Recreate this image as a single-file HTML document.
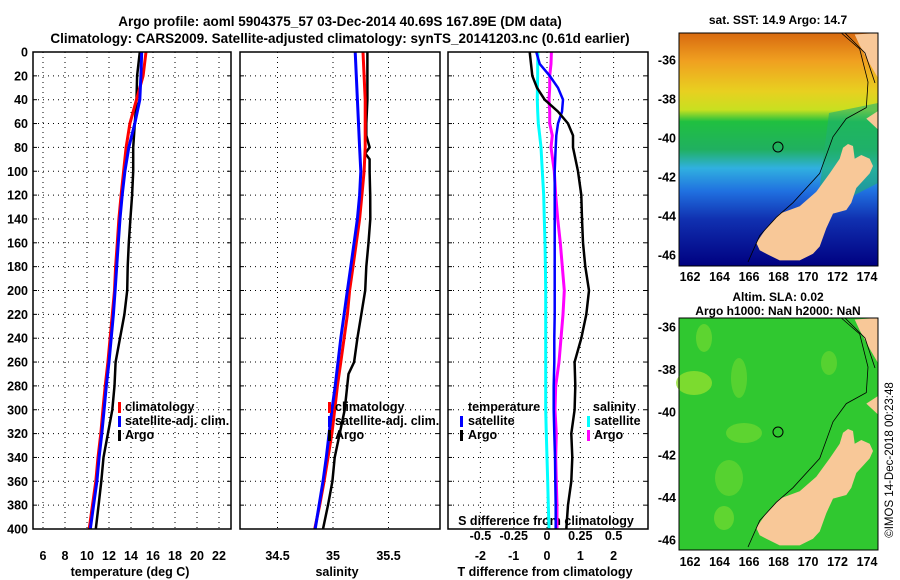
<!DOCTYPE html>
<html><head><meta charset="utf-8"><style>
body{margin:0;background:#fff;}
svg{display:block;font-family:"Liberation Sans",sans-serif;font-weight:bold;}
</style></head><body>
<svg id="chart" width="900" height="580" viewBox="0 0 900 580" xmlns="http://www.w3.org/2000/svg">
<rect width="900" height="580" fill="#fff"/>
<text x="340" y="26" font-size="13.5" text-anchor="middle">Argo profile: aoml 5904375_57 03-Dec-2014 40.69S 167.89E (DM data)</text>
<text x="340" y="43" font-size="13.5" text-anchor="middle">Climatology: CARS2009. Satellite-adjusted climatology: synTS_20141203.nc (0.61d earlier)</text>
<g id="panels"></g>
<g id="maps">
 <defs>
  <linearGradient id="sstg" x1="0" y1="0" x2="0" y2="1">
   <stop offset="0" stop-color="#d86a10"/>
   <stop offset="0.12" stop-color="#f0a020"/>
   <stop offset="0.25" stop-color="#e8d020"/>
   <stop offset="0.33" stop-color="#c8e020"/>
   <stop offset="0.38" stop-color="#20c040"/>
   <stop offset="0.5" stop-color="#20b060"/>
   <stop offset="0.58" stop-color="#30b0e0"/>
   <stop offset="0.68" stop-color="#2070e0"/>
   <stop offset="0.8" stop-color="#1030b0"/>
   <stop offset="1" stop-color="#000080"/>
  </linearGradient>
  <g id="landshape">
   <polygon points="169,111 174,113 175.7,125.8 182.3,122 190.7,125.8 194,133 190.7,140.4 184,147.7 177.3,155 172.3,169.7 167.3,177 154,180.6 147.3,195.2 140.7,213.5 134,220.8 120.7,227.4 100.7,227.4 87.3,220.8 80.7,217.2 77.3,209.9 87.3,195.2 100.7,180.6 120.7,173.3 137.3,158.7 150.7,140.4 160.7,125.8 164,114.8" fill="#f8c898"/>
   <polygon points="175.7,1.5 199,0 199,45 190.7,30.7 180.7,12.4" fill="#f8c898"/>
   <polygon points="187.3,85.6 199,78 199,96.5" fill="#f8c898"/>
   <polyline points="162.3,0 180.7,16 189,49 187.3,74.6 167.3,85.6 154,103.8 140.7,140.4 114,169.7 97.3,184.3 80.7,202.6 69,229" fill="none" stroke="#000" stroke-width="0.8"/>
   <polyline points="166,0 186,20 196,50" fill="none" stroke="#000" stroke-width="0.8"/>
  </g>
 </defs>
 <text x="778" y="24" font-size="12" text-anchor="middle">sat. SST: 14.9 Argo: 14.7</text>
 <g transform="translate(679,33)">
  <rect width="199" height="233" fill="url(#sstg)"/>
  <polygon points="150,80 199,70 199,150 160,170 140,160" fill="#20b070" opacity="0.6"/>
  <use href="#landshape"/>
  <circle cx="99" cy="114" r="5" fill="none" stroke="#000"/>
  <rect width="199" height="233" fill="none" stroke="#000"/>
 </g>
 <text x="778" y="301" font-size="12" text-anchor="middle">Altim. SLA: 0.02</text>
 <text x="778" y="315" font-size="12" text-anchor="middle">Argo h1000: NaN h2000: NaN</text>
 <g transform="translate(679,318)">
  <rect width="199" height="232" fill="#30c830"/>
  <ellipse cx="15" cy="65" rx="18" ry="12" fill="#90e030" opacity="0.8"/>
  <ellipse cx="25" cy="20" rx="8" ry="14" fill="#70d830" opacity="0.7"/>
  <ellipse cx="65" cy="115" rx="18" ry="10" fill="#70d830" opacity="0.7"/>
  <ellipse cx="50" cy="160" rx="14" ry="18" fill="#70d830" opacity="0.6"/>
  <ellipse cx="60" cy="60" rx="8" ry="20" fill="#70d830" opacity="0.6"/>
  <ellipse cx="150" cy="45" rx="8" ry="12" fill="#70d830" opacity="0.6"/>
  <ellipse cx="45" cy="200" rx="10" ry="12" fill="#80dd30" opacity="0.6"/>
  <use href="#landshape"/>
  <circle cx="99" cy="114" r="5" fill="none" stroke="#000"/>
  <rect width="199" height="232" fill="none" stroke="#000"/>
 </g>
 <text transform="translate(893,460) rotate(-90)" font-size="11.5" font-weight="normal" text-anchor="middle">©IMOS 14-Dec-2018 00:23:48</text>
</g>
</svg>
<script>
// ---- data ----
const depths = [0,20,40,60,80,100,120,140,160,180,200,220,240,260,280,300,320,340,360,380,400];
const tempClim = [15.36,15.1,14.5,13.9,13.55,13.33,13.1,12.9,12.75,12.6,12.5,12.3,12.1,11.9,11.65,11.45,11.25,11.0,10.8,10.5,10.2];
const tempSat = [14.97,14.9,14.8,14.35,13.8,13.45,13.2,13.0,12.85,12.7,12.55,12.4,12.2,12.0,11.75,11.55,11.35,11.1,10.9,10.6,10.3];
const tempArgo = [14.8,14.55,14.5,14.35,14.2,14.2,14.1,13.95,13.8,13.7,13.65,13.4,13.0,12.6,12.5,12.3,11.9,11.5,11.3,11.05,10.8];
const salClim = [35.27,35.28,35.29,35.29,35.29,35.28,35.26,35.24,35.21,35.18,35.15,35.13,35.1,35.07,35.04,35.015,34.99,34.955,34.92,34.88,34.835];
const salSat = [35.2,35.21,35.22,35.23,35.24,35.25,35.24,35.22,35.19,35.16,35.13,35.1,35.07,35.045,35.02,34.99,34.965,34.94,34.91,34.875,34.84];
const salArgoDepth = [0,20,40,60,70,80,85,90,100,120,140,160,180,200,220,240,260,270,300,320,340,360,380,400];
const salArgo = [35.31,35.31,35.31,35.3,35.3,35.33,35.29,35.33,35.33,35.335,35.336,35.32,35.3,35.29,35.255,35.22,35.19,35.14,35.105,35.06,35.015,34.995,34.955,34.91];
const diffDepth = [0,10,20,30,40,50,60,70,80,100,120,140,160,180,200,220,240,260,280,300,320,340,360,380,400];
const tDiffArgo = [-0.52,-0.48,-0.44,-0.3,-0.07,0.33,0.63,0.78,0.78,0.93,1.03,1.05,1.08,1.15,1.26,1.18,1.03,0.83,0.85,0.83,0.73,0.76,0.73,0.63,0.58];
const tDiffSat = [-0.32,-0.22,0.08,0.33,0.48,0.45,0.33,0.28,0.26,0.23,0.23,0.23,0.23,0.23,0.23,0.23,0.22,0.22,0.2,0.2,0.22,0.24,0.25,0.26,0.26];
const sDiffArgo = [0.033,0.03,0.02,0.02,0.015,0.02,0.02,0.04,0.03,0.055,0.065,0.08,0.1,0.115,0.13,0.12,0.105,0.09,0.065,0.06,0.07,0.065,0.07,0.075,0.075];
const sDiffSat = [-0.068,-0.07,-0.07,-0.072,-0.073,-0.07,-0.065,-0.055,-0.045,-0.035,-0.025,-0.02,-0.015,-0.012,-0.01,-0.01,-0.01,-0.01,-0.01,-0.01,-0.005,0.0,0.005,0.01,0.015];
const depthTicks = [0,20,40,60,80,100,120,140,160,180,200,220,240,260,280,300,320,340,360,380,400];
const tempTicks = [6,8,10,12,14,16,18,20,22];
const salTicks = [34.5,35,35.5];
const salTickLabels = ["34.5","35","35.5"];
const tDiffTicks = [-2,-1,0,1,2];
const sDiffTicks = [-0.5,-0.25,0,0.25,0.5];
const sDiffTickLabels = ["-0.5","-0.25","0","0.25","0.5"];
const latTicks = [-36,-38,-40,-42,-44,-46];
const lonTicks = [162,164,166,168,170,172,174];

// ---- axes ----
const Y0=52, Y1=529;
const yD = d => Y0 + d*(Y1-Y0)/400;
const xT = t => 43 + (t-6)*11;
const xS = s => 333 + (s-35)*111;
const xTD = v => 547 + v*33.3;
const xSD = v => 547 + v*4*33.3;
const lonX = lo => 690 + (lo-162)*14.75;
const latY1 = la => 60 + (-36-la)*19.5;
const latY2 = la => 327 + (-36-la)*21.3;

const NS="http://www.w3.org/2000/svg";
const root=document.getElementById('panels');
function mk(tag, attrs, parent){const e=document.createElementNS(NS,tag);for(const k in attrs)e.setAttribute(k,attrs[k]);(parent||root).appendChild(e);return e;}

const panels=[{x0:33,x1:231,name:'temperature'},{x0:240,x1:440,name:'salinity'},{x0:448,x1:648,name:'difference'}];
panels.forEach(p=>{
  const g=mk('g',{});
  
  
  depthTicks.forEach(d=>{
    if(d===0||d===400)return;
    const l=mk('line',{x1:p.x0,x2:p.x1,y1:yD(d),y2:yD(d),stroke:'#000','stroke-width':1,'stroke-dasharray':'1,4'},g);
    
    
    const t1=mk('line',{x1:p.x0,x2:p.x0+4,y1:yD(d),y2:yD(d),stroke:'#000'},g);
    
    
    const t2=mk('line',{x1:p.x1-4,x2:p.x1,y1:yD(d),y2:yD(d),stroke:'#000'},g);
    
    
  });
  p.g=g;
});
function vgrid(g,xs,fn){xs.forEach(v=>{const l=mk('line',{x1:fn(v),x2:fn(v),y1:Y0,y2:Y1,stroke:'#000','stroke-width':1,'stroke-dasharray':'1,4'},g);
  
  });}
vgrid(panels[0].g,tempTicks,xT);
vgrid(panels[1].g,salTicks,xS);
vgrid(panels[2].g,tDiffTicks,xTD);

function txt(s,x,y,anchor,name,size,fill){const e=mk('text',{x:x,y:y,'text-anchor':anchor||'start','font-size':size||12.5,fill:fill||'#000'});e.textContent=s;
  
  
  return e;}

depthTicks.forEach(d=>txt(String(d),28,yD(d)+4.5,'end','depth-tick-label'));
tempTicks.forEach(t=>txt(String(t),xT(t),560,'middle','temp-tick-label'));
salTicks.forEach((s,i)=>txt(salTickLabels[i],xS(s),560,'middle','sal-tick-label'));
tDiffTicks.forEach(t=>txt(String(t),xTD(t),560,'middle','tdiff-tick-label'));
sDiffTicks.forEach((s,i)=>txt(sDiffTickLabels[i],xSD(s),540,'middle','sdiff-tick-label'));
txt('temperature (deg C)',130,576,'middle','x-axis-title-temperature');
txt('salinity',337,576,'middle','x-axis-title-salinity');
txt('T difference from climatology',545,576,'middle','x-axis-title-tdiff');
txt('S difference from climatology',546,525,'middle','sdiff-axis-title');

function line(xs,ds,fx,color,w,name){
  const pts=xs.map((v,i)=>fx(v).toFixed(1)+','+yD(ds[i]).toFixed(1)).join(' ');
  const e=mk('polyline',{points:pts,fill:'none',stroke:color,'stroke-width':w,'stroke-linejoin':'miter'});
  
  
}
line(tempArgo,depths,xT,'#000',2.5,'temp-argo-line');
line(tempClim,depths,xT,'#f00',3,'temp-climatology-line');
line(tempSat,depths,xT,'#00f',3,'temp-satellite-line');
line(salArgo,salArgoDepth,xS,'#000',2.5,'sal-argo-line');
line(salClim,depths,xS,'#f00',3,'sal-climatology-line');
line(salSat,depths,xS,'#00f',3,'sal-satellite-line');
line(sDiffSat,diffDepth,xSD,'#00ffff',3,'sdiff-satellite-line');
line(sDiffArgo,diffDepth,xSD,'#ff00ff',3,'sdiff-argo-line');
line(tDiffSat,diffDepth,xTD,'#0000ff',2.5,'tdiff-satellite-line');
line(tDiffArgo,diffDepth,xTD,'#000',2.5,'tdiff-argo-line');

panels.forEach(p=>{const r=mk('rect',{x:p.x0,y:Y0,width:p.x1-p.x0,height:Y1-Y0,fill:'none',stroke:'#000','stroke-width':1.5});
  
  });

function legend(x,y,color,label,tx){const m=mk('rect',{x:x,y:y-9,width:3,height:11,fill:color});
  
  
  txt(label,tx,y,'start','legend-entry');}
legend(118,411,'#f00','climatology',125);
legend(118,425,'#00f','satellite-adj. clim.',125);
legend(118,439,'#000','Argo',125);
legend(328,411,'#f00','climatology',335);
legend(328,425,'#00f','satellite-adj. clim.',335);
legend(328,439,'#000','Argo',335);
txt('temperature',468,411,'start','legend-title-temperature');
legend(460,425,'#00f','satellite',468);
legend(460,439,'#000','Argo',468);
txt('salinity',593,411,'start','legend-title-salinity');
legend(587,425,'#00ffff','satellite',594);
legend(587,439,'#ff00ff','Argo',594);

latTicks.forEach(la=>{txt(String(la),676,latY1(la)+4.5,'end','lat-tick-label-sst');
  txt(String(la),676,latY2(la)+4.5,'end','lat-tick-label-sla');});
lonTicks.forEach(lo=>{txt(String(lo),lonX(lo),281,'middle','lon-tick-label-sst');
  txt(String(lo),lonX(lo),566,'middle','lon-tick-label-sla');});
</script>
</body></html>
